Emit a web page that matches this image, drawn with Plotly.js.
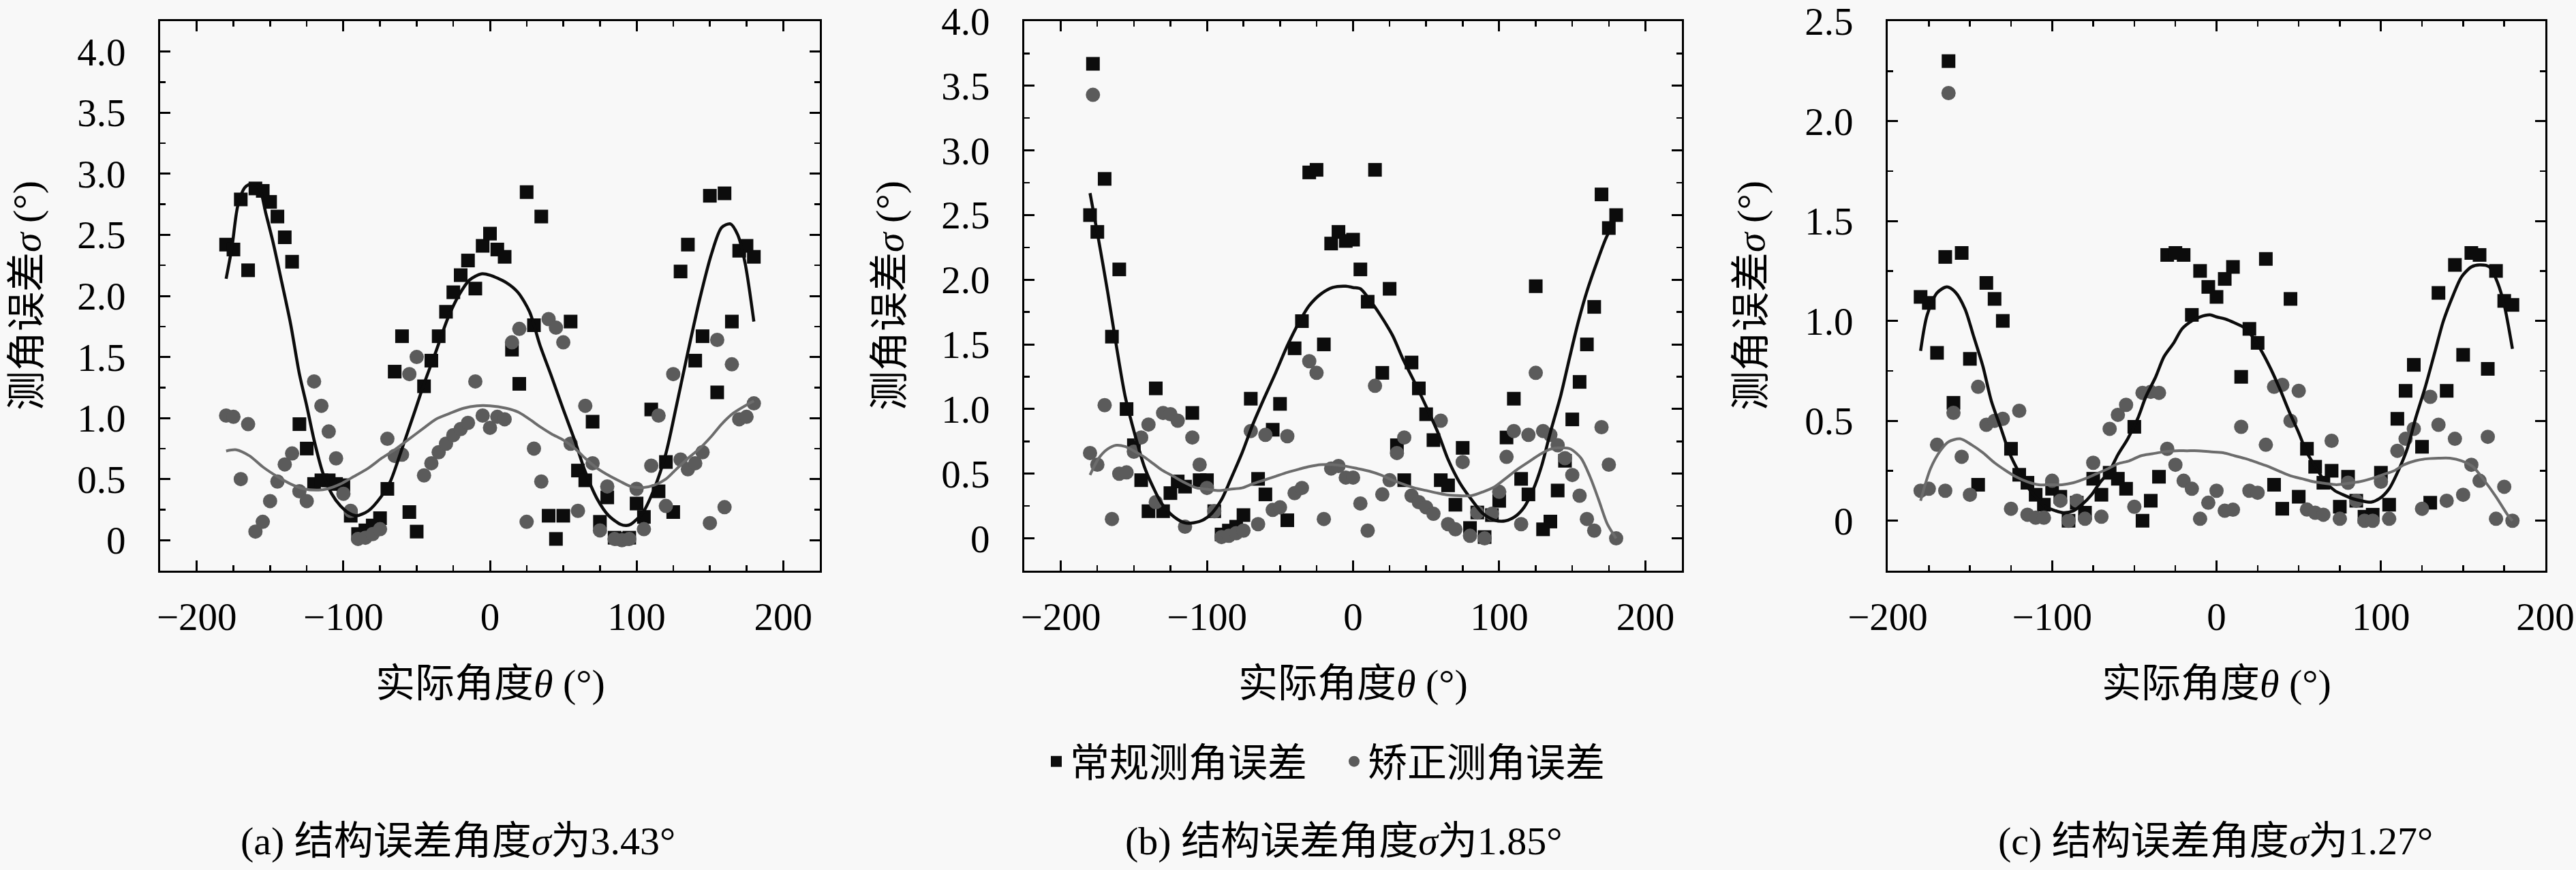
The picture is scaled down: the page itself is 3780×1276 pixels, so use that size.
<!DOCTYPE html>
<html>
<head>
<meta charset="utf-8">
<script src="https://cdn.plot.ly/plotly-3.0.1.min.js"></script>
<style>
  html, body { margin: 0; padding: 0; background: #f8f8f8; }
  #chart { width: 3780px; height: 1276px; }
</style>
</head>
<body>
<div id="chart"></div>
<script>
// measured angle (deg), one point every 5 degrees
const angles = [-180,-175,-170,-165,-160,-155,-150,-145,-140,-135,-130,-125,-120,-115,-110,-105,-100,-95,-90,-85,-80,-75,-70,-65,-60,-55,-50,-45,-40,-35,-30,-25,-20,-15,-10,-5,0,5,10,15,20,25,30,35,40,45,50,55,60,65,70,75,80,85,90,95,100,105,110,115,120,125,130,135,140,145,150,155,160,165,170,175,180];

// (a) structural error 3.43 deg
const squareA = [2.42,2.38,2.79,2.21,2.88,2.86,2.77,2.65,2.48,2.28,0.95,0.75,0.46,0.49,0.49,0.46,0.45,0.20,0.05,0.08,0.12,0.18,0.42,1.38,1.67,0.23,0.07,1.26,1.47,1.67,1.87,2.03,2.17,2.29,2.06,2.41,2.51,2.38,2.32,1.56,1.28,2.85,1.76,2.65,0.20,0.01,0.20,1.79,0.57,0.49,0.97,0.15,0.35,0.02,0.01,0.02,0.30,0.19,1.07,0.40,0.64,0.23,2.20,2.42,1.47,1.67,2.82,1.21,2.84,1.79,2.37,2.41,2.32];
const circleA = [1.02,1.01,0.50,0.95,0.07,0.15,0.32,0.48,0.62,0.71,0.40,0.32,1.30,1.10,0.89,0.67,0.38,0.24,0.01,0.02,0.05,0.09,0.83,0.69,0.70,1.36,1.50,0.53,0.63,0.72,0.79,0.86,0.91,0.96,1.30,1.02,0.92,1.01,0.99,1.62,1.73,0.15,0.75,0.48,1.81,1.74,1.62,0.79,0.24,1.10,0.63,0.08,0.44,0.01,0.00,0.01,0.42,0.09,0.61,1.02,0.28,1.36,0.66,0.58,0.63,0.72,0.14,1.64,0.27,1.44,0.99,1.01,1.12];
const fitBlackXA = [-180,-176,-172,-167,-162,-157,-153,-148,-142,-136,-130,-125,-120,-114,-108,-102,-96,-91,-83,-74,-68,-60,-52,-45,-37,-29,-21,-14,-6,0,11,19,27,34,42,50,58,65,73,81,89,93,96,104,112,120,127,135,143,151,158,164,169,174,180];
const fitBlackYA = [2.14,2.40,2.74,2.89,2.92,2.87,2.68,2.44,2.11,1.77,1.36,1.10,0.82,0.55,0.38,0.28,0.22,0.20,0.24,0.36,0.48,0.75,1.03,1.28,1.54,1.81,2.01,2.13,2.18,2.17,2.11,2.03,1.87,1.60,1.34,1.07,0.81,0.56,0.34,0.20,0.13,0.12,0.13,0.22,0.42,0.71,1.09,1.54,1.97,2.34,2.56,2.59,2.50,2.27,1.79];
const fitGrayXA = [-180,-173,-164,-155,-145,-136,-127,-117,-111,-102,-93,-83,-74,-65,-55,-46,-37,-27,-18,-9,0,11,19,27,34,42,50,58,65,73,81,89,96,104,112,120,127,135,143,151,158,166,174,180];
const fitGrayYA = [0.73,0.74,0.69,0.60,0.52,0.46,0.42,0.41,0.42,0.46,0.52,0.59,0.67,0.74,0.83,0.91,0.99,1.04,1.08,1.10,1.10,1.08,1.05,0.99,0.93,0.87,0.82,0.75,0.67,0.59,0.53,0.48,0.44,0.43,0.45,0.50,0.58,0.67,0.75,0.85,0.95,1.04,1.10,1.14];

// (b) structural error 1.85 deg
const squareB = [2.50,2.37,2.78,1.56,2.08,1.00,0.72,0.45,0.21,1.16,0.21,0.35,0.44,0.40,0.97,0.45,0.45,0.21,0.03,0.06,0.09,0.18,1.08,0.46,0.34,0.84,1.04,0.14,1.47,1.68,2.83,2.85,1.50,2.28,2.37,2.30,2.31,2.08,1.83,2.85,1.28,1.93,0.72,0.45,1.36,1.16,0.96,0.76,0.45,0.41,0.26,0.70,0.08,0.20,0.01,0.18,0.29,0.78,1.08,0.46,0.34,1.95,0.07,0.13,0.37,0.60,0.92,1.21,1.50,1.79,2.66,2.40,2.50];
const circleB = [0.66,0.57,1.03,0.15,0.50,0.51,0.67,0.78,0.88,0.28,0.97,0.96,0.91,0.09,0.78,0.57,0.39,0.21,0.01,0.02,0.04,0.06,0.83,0.11,0.80,0.22,0.24,0.79,0.35,0.39,1.37,1.28,0.15,0.54,0.56,0.47,0.47,0.27,0.06,1.18,0.34,0.45,0.66,0.78,0.33,0.28,0.24,0.19,0.91,0.11,0.07,0.59,0.02,0.20,0.00,0.19,0.36,0.63,0.83,0.11,0.80,1.28,0.83,0.80,0.72,0.62,0.49,0.33,0.15,0.06,0.86,0.57,0.00];
const extraAngleB = [-178];
const extraSquareB = [3.67];
const extraCircleB = [3.43];
const fitBlackXB = [-180,-174,-168,-162,-156,-149,-143,-137,-131,-123,-115,-109,-103,-97,-90,-84,-76,-69,-61,-53,-45,-37,-30,-22,-14,-5,0,5,11,19,27,34,42,50,58,65,73,81,89,97,104,111,117,123,129,135,142,148,154,160,167,173,178];
const fitBlackYB = [2.67,2.30,1.91,1.49,1.10,0.79,0.56,0.40,0.27,0.17,0.12,0.12,0.14,0.19,0.30,0.45,0.66,0.87,1.08,1.28,1.49,1.67,1.80,1.89,1.94,1.95,1.94,1.93,1.85,1.72,1.57,1.39,1.21,1.02,0.82,0.61,0.43,0.30,0.19,0.14,0.135,0.17,0.24,0.37,0.56,0.82,1.10,1.39,1.67,1.91,2.14,2.32,2.43];
const fitGrayXB = [-180,-174,-168,-162,-156,-149,-143,-137,-131,-123,-115,-107,-100,-92,-84,-76,-69,-61,-53,-45,-37,-30,-22,-14,-6,3,11,19,27,34,42,50,58,65,73,81,89,97,104,112,120,128,135,143,149,156,162,168,174,180];
const fitGrayYB = [0.49,0.62,0.69,0.72,0.71,0.67,0.63,0.58,0.53,0.48,0.43,0.39,0.38,0.37,0.38,0.39,0.42,0.45,0.48,0.51,0.535,0.555,0.57,0.57,0.56,0.54,0.52,0.49,0.45,0.42,0.39,0.37,0.35,0.335,0.33,0.33,0.36,0.40,0.46,0.53,0.59,0.65,0.69,0.70,0.69,0.62,0.48,0.30,0.11,0.0];

// (c) structural error 1.27 deg
const squareC = [1.12,1.09,0.84,1.32,0.59,1.34,0.81,0.18,1.19,1.11,1.00,0.36,0.23,0.19,0.13,0.08,0.16,0.12,0.00,0.09,0.04,0.21,0.13,0.24,0.21,0.16,0.47,0.00,0.10,0.22,1.33,1.34,1.33,1.03,1.25,1.17,1.12,1.21,1.27,0.72,0.96,0.89,1.31,0.18,0.06,1.11,0.12,0.36,0.27,0.19,0.25,0.07,0.22,0.10,0.02,0.03,0.24,0.08,0.51,0.65,0.78,0.37,0.09,1.14,0.65,1.28,0.83,1.34,1.33,0.76,1.25,1.10,1.08];
const circleC = [0.15,0.16,0.38,0.15,0.54,0.32,0.13,0.67,0.48,0.50,0.51,0.06,0.55,0.03,0.015,0.015,0.20,0.10,0.00,0.10,0.01,0.29,0.02,0.46,0.53,0.58,0.07,0.64,0.645,0.64,0.36,0.28,0.20,0.16,0.01,0.09,0.15,0.05,0.055,0.47,0.15,0.14,0.38,0.67,0.68,0.50,0.65,0.056,0.04,0.03,0.40,0.01,0.19,0.10,0.00,0.00,0.195,0.01,0.35,0.41,0.46,0.06,0.62,0.48,0.10,0.41,0.13,0.28,0.20,0.42,0.01,0.17,0.00];
const extraAngleC = [-163];
const extraSquareC = [2.30];
const extraCircleC = [2.14];
const fitBlackXC = [-180,-176,-170,-164,-159,-153,-148,-142,-137,-131,-126,-120,-115,-109,-104,-98,-93,-87,-82,-76,-71,-65,-60,-54,-48,-43,-37,-32,-26,-21,-15,-10,-4,0,5,11,17,22,28,33,39,44,50,55,61,66,72,77,83,88,94,99,105,110,116,121,127,133,138,144,149,155,160,166,171,175,180];
const fitBlackYC = [0.85,1.03,1.14,1.17,1.145,1.06,0.93,0.77,0.60,0.46,0.34,0.24,0.17,0.11,0.07,0.05,0.04,0.05,0.08,0.13,0.19,0.25,0.33,0.41,0.51,0.62,0.72,0.82,0.89,0.96,1.00,1.02,1.03,1.02,1.01,0.99,0.965,0.92,0.84,0.76,0.65,0.55,0.44,0.34,0.26,0.195,0.15,0.13,0.11,0.10,0.093,0.11,0.16,0.24,0.36,0.51,0.67,0.85,1.00,1.13,1.22,1.27,1.28,1.27,1.19,1.08,0.86];
const fitGrayXC = [-180,-174,-168,-163,-156,-149,-142,-135,-128,-122,-115,-108,-101,-94,-87,-80,-73,-66,-60,-53,-46,-39,-32,-25,-18,-11,-4,4,11,18,25,32,39,45,52,59,66,73,80,87,94,101,108,114,121,128,135,142,149,156,163,170,177,180];
const fitGrayYC = [0.10,0.26,0.35,0.395,0.41,0.38,0.34,0.29,0.25,0.22,0.195,0.18,0.18,0.18,0.19,0.21,0.235,0.26,0.285,0.30,0.325,0.335,0.345,0.35,0.35,0.35,0.345,0.34,0.325,0.31,0.29,0.27,0.245,0.225,0.21,0.195,0.187,0.18,0.187,0.195,0.21,0.23,0.25,0.28,0.30,0.31,0.313,0.313,0.30,0.27,0.20,0.12,0.03,0.0];

// tick labels
const xTickVals = [-200,-100,0,100,200];
const xTickText = ['\u2212200','\u2212100','0','100','200'];
const yTickValsAB = [0,0.5,1,1.5,2,2.5,3,3.5,4];
const yTickTextAB = ['0','0.5','1.0','1.5','2.0','2.5','3.0','3.5','4.0'];
const yTickValsC = [0,0.5,1,1.5,2,2.5];
const yTickTextC = ['0','0.5','1.0','1.5','2.0','2.5'];

const seriesNames = ['常规测角误差', '矫正测角误差'];
const subTitles = ['(a) 结构误差角度<i>σ</i>为3.43°', '(b) 结构误差角度<i>σ</i>为1.85°', '(c) 结构误差角度<i>σ</i>为1.27°'];

const SERIF = '"Liberation Serif", "Noto Sans CJK SC", serif';
const BLACK = '#0c0c0c';
const DOT = '#5b5b5b';
const GRAYLINE = '#6c6c6c';

function panel(n, sq, ci, bx, by, gx, gy, extraX, extraSq, extraCi) {
    const xa = n === 1 ? 'x' : 'x' + n;
    const ya = n === 1 ? 'y' : 'y' + n;
    const xs = angles.concat(extraX || []);
    return [
        { x: xs, y: sq.concat(extraSq || []), xaxis: xa, yaxis: ya, type: 'scatter', mode: 'markers',
          name: seriesNames[0], showlegend: n === 1, legendrank: 1,
          marker: { symbol: 'square', size: 20, color: BLACK } },
        { x: xs, y: ci.concat(extraCi || []), xaxis: xa, yaxis: ya, type: 'scatter', mode: 'markers',
          name: seriesNames[1], showlegend: n === 1, legendrank: 2,
          marker: { symbol: 'circle', size: 21, color: DOT } },
        { x: bx, y: by, xaxis: xa, yaxis: ya, type: 'scatter', mode: 'lines', showlegend: false,
          hoverinfo: 'skip', line: { color: BLACK, width: 4.5, shape: 'spline', smoothing: 0.8 } },
        { x: gx, y: gy, xaxis: xa, yaxis: ya, type: 'scatter', mode: 'lines', showlegend: false,
          hoverinfo: 'skip', line: { color: GRAYLINE, width: 4, shape: 'spline', smoothing: 0.8 } }
    ];
}

const data = [].concat(
    panel(1, squareA, circleA, fitBlackXA, fitBlackYA, fitGrayXA, fitGrayYA),
    panel(2, squareB, circleB, fitBlackXB, fitBlackYB, fitGrayXB, fitGrayYB, extraAngleB, extraSquareB, extraCircleB),
    panel(3, squareC, circleC, fitBlackXC, fitBlackYC, fitGrayXC, fitGrayYC, extraAngleC, extraSquareC, extraCircleC)
);

const W = 3780, H = 1276;
const yDom = [1 - 837 / H, 1 - 31 / H];

function xAxis(dom, range, anchor) {
    return {
        domain: dom, range: range, anchor: anchor,
        showline: true, linecolor: '#000', linewidth: 3, mirror: 'ticks',
        ticks: 'inside', ticklen: 15, tickwidth: 3, tickcolor: '#000',
        tickvals: xTickVals, ticktext: xTickText, ticklabeloverflow: 'allow',
        minor: { ticks: 'inside', ticklen: 8, tickwidth: 2.5, tickcolor: '#000', dtick: 25, tick0: 0, showgrid: false },
        ticklabelstandoff: 16,
        tickfont: { family: SERIF, size: 57, color: '#000' },
        showgrid: false, zeroline: false
    };
}
function yAxis(range, vals, text, anchor) {
    return {
        domain: yDom, range: range, anchor: anchor,
        showline: true, linecolor: '#000', linewidth: 3, mirror: 'ticks',
        ticks: 'inside', ticklen: 15, tickwidth: 3, tickcolor: '#000',
        tickvals: vals, ticktext: text, ticklabeloverflow: 'allow',
        minor: { ticks: 'inside', ticklen: 8, tickwidth: 2.5, tickcolor: '#000', dtick: 0.25, tick0: 0, showgrid: false },
        ticklabelstandoff: 36,
        tickfont: { family: SERIF, size: 57, color: '#000' },
        showgrid: false, zeroline: false
    };
}

const domA = [235 / W, 1203 / W], domB = [1503 / W, 2468 / W], domC = [2770 / W, 3735 / W];
const yTitle = '测角误差<i>σ</i> (°)';
const xTitle = '实际角度<i>θ</i> (°)';
const txtFont = { family: SERIF, size: 58, color: '#000' };

function ann(text, xpx, ypx, angle) {
    return { text: text, xref: 'paper', yref: 'paper', x: xpx / W, y: 1 - ypx / H,
             xanchor: 'center', yanchor: 'middle', showarrow: false, font: txtFont, textangle: angle || 0 };
}

const layout = {
    width: W, height: H,
    margin: { l: 0, r: 0, t: 0, b: 0 },
    paper_bgcolor: '#f8f8f8', plot_bgcolor: '#f8f8f8',
    showlegend: true,
    legend: { orientation: 'h', x: 1530 / W, y: 1 - 1117 / H, xanchor: 'left', yanchor: 'middle',
              font: txtFont, bgcolor: 'rgba(0,0,0,0)', itemwidth: 30, traceorder: 'normal',
              entrywidth: 392, entrywidthmode: 'pixels' },
    xaxis: xAxis(domA, [-225, 225], 'y'),
    yaxis: yAxis([-0.25, 4.25], yTickValsAB, yTickTextAB, 'x'),
    xaxis2: xAxis(domB, [-225, 225], 'y2'),
    yaxis2: yAxis([-0.25, 4.0], yTickValsAB, yTickTextAB, 'x2'),
    xaxis3: xAxis(domC, [-200, 200], 'y3'),
    yaxis3: yAxis([-0.25, 2.5], yTickValsC, yTickTextC, 'x3'),
    annotations: [
        ann(yTitle, 40, 434, -90), ann(yTitle, 1306, 434, -90), ann(yTitle, 2570, 434, -90),
        ann(xTitle, 719, 1002), ann(xTitle, 1985, 1002), ann(xTitle, 3252, 1002),
        ann(subTitles[0], 672, 1233), ann(subTitles[1], 1972, 1233), ann(subTitles[2], 3251, 1233)
    ]
};

Plotly.newPlot('chart', data, layout, { staticPlot: true, displayModeBar: false });
</script>
</body>
</html>
